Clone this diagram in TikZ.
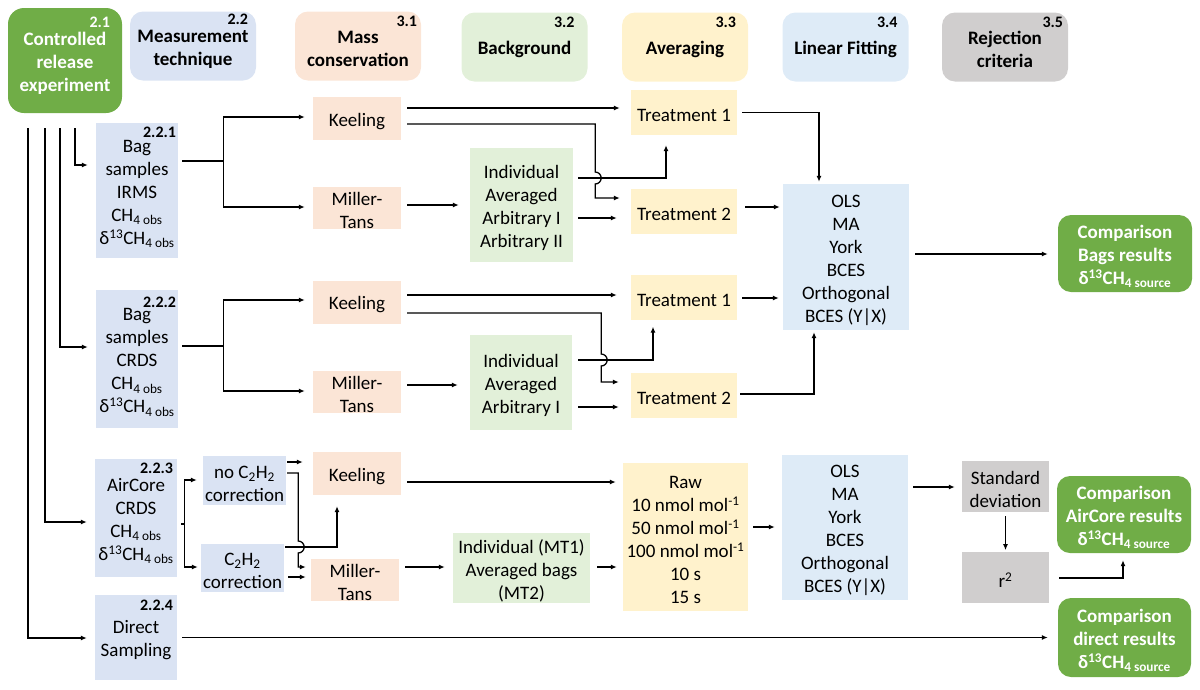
\documentclass[tikz,border=0pt]{standalone}
\usepackage{fontspec}
\setmainfont{Carlito}
\usetikzlibrary{arrows.meta,positioning,calc}
\definecolor{Leaf}{HTML}{70AD47}
\definecolor{Steel}{HTML}{DAE3F3}
\definecolor{Peach}{HTML}{FBE5D6}
\definecolor{Sage}{HTML}{E2F0D9}
\definecolor{Cream}{HTML}{FFF2CC}
\definecolor{Sky}{HTML}{DEEBF7}
\definecolor{Stone}{HTML}{D0CECE}
\newcommand\bodysize{\fontsize{19pt}{23pt}\selectfont}
\newcommand\tagsize{\fontsize{16pt}{18pt}\selectfont\bfseries}
\newcommand\lift{\rule{0pt}{19pt}}
\newcommand\obs{\textsubscript{4 obs}}
\newcommand\src{\textsubscript{4 source}}
\newcommand\dC{δ\textsuperscript{13}CH}

\begin{document}
\begin{tikzpicture}[x=1pt,y=1pt,
    cell/.style={inner sep=0pt,align=center,font=\bodysize},
    wh/.style 2 args={minimum width=#1pt,minimum height=#2pt},
    head/.style={cell,rounded corners=13pt,font=\bodysize\bfseries,wh={126}{69}},
    result/.style={cell,rounded corners=13pt,fill=Leaf,text=white,font=\bodysize\bfseries},
    tag/.style={inner sep=0pt,font=\tagsize,anchor=north east},
    link/.style={line width=1.3pt,shorten <=6pt},
    arr/.style={link,-{Latex[length=6pt,width=5pt]},shorten >=8pt}
  ]
  \useasboundingbox (0,0) rectangle (1200,-689);
  % section headers
  \node[head,fill=Leaf,text=white,wh={114}{105},rounded corners=16pt] (h21) at (65,-60.5) {\lift Controlled\\release\\experiment};
  \node[head,fill=Steel] (h22) at (193,-46) {\lift Measurement\\technique};
  \node[head,fill=Peach] (h31) at (358,-46) {\lift Mass\\conservation};
  \node[head,fill=Sage] (h32) at (524.5,-47) {\lift Background};
  \node[head,fill=Cream] (h33) at (685,-47) {\lift Averaging};
  \node[head,fill=Sky] (h34) at (845.5,-47) {\lift Linear Fitting};
  \node[head,fill=Stone] (h35) at (1005,-47) {\lift Rejection\\criteria};

  % measurement techniques
  \node[cell,fill=Steel,wh={82}{135}] (b221) at (137,-190.5) {\lift Bag\\samples\\IRMS\\CH\obs\\\dC\obs};
  \node[cell,fill=Steel,wh={82}{138}] (b222) at (137,-359) {\lift Bag\\samples\\CRDS\\CH\obs\\\dC\obs};
  \node[cell,fill=Steel,wh={82}{118}] (b223) at (136,-518) {\lift AirCore\\CRDS\\CH\obs\\\dC\obs};
  \node[cell,fill=Steel,wh={82}{85}] (b224) at (136,-637.5) {\lift Direct\\Sampling};
  \node[cell,fill=Steel,wh={83}{49}] (nc2) at (244.5,-480.5) {\lift no C\textsubscript{2}H\textsubscript{2}\\correction};
  \node[cell,fill=Steel,wh={83}{48}] (c2) at (242.5,-568) {\lift C\textsubscript{2}H\textsubscript{2}\\correction};

  % mass conservation
  \node[cell,fill=Peach,wh={88}{43}] (keel1) at (357,-118.5) {\lift Keeling};
  \node[cell,fill=Peach,wh={88}{42}] (mt1) at (357,-208) {\lift Miller-\\Tans};
  \node[cell,fill=Peach,wh={88}{43}] (keel2) at (357,-302) {\lift Keeling};
  \node[cell,fill=Peach,wh={88}{42}] (mt2) at (357,-392) {\lift Miller-\\Tans};
  \node[cell,fill=Peach,wh={88}{43}] (keel3) at (357,-473.5) {\lift Keeling};
  \node[cell,fill=Peach,wh={88}{42}] (mt3) at (355,-580) {\lift Miller-\\Tans};

  % background
  \node[cell,fill=Sage,wh={103}{114}] (bkg1) at (521.5,-205) {\lift Individual\\Averaged\\Arbitrary I\\Arbitrary II};
  \node[cell,fill=Sage,wh={102}{95}] (bkg2) at (521,-382.5) {\lift Individual\\Averaged\\Arbitrary I};
  \node[cell,fill=Sage,wh={137}{70}] (bkg3) at (521.5,-568) {\lift Individual (MT1)\\Averaged bags\\(MT2)};

  % averaging
  \node[cell,fill=Cream,wh={106}{45}] (t1a) at (684,-112.5) {\lift Treatment 1};
  \node[cell,fill=Cream,wh={106}{45}] (t2a) at (684,-211) {\lift Treatment 2};
  \node[cell,fill=Cream,wh={106}{45}] (t1b) at (684,-297) {\lift Treatment 1};
  \node[cell,fill=Cream,wh={106}{45}] (t2b) at (684,-395) {\lift Treatment 2};
  \node[cell,fill=Cream,wh={125}{148}] (avg3) at (685.5,-537) {\lift Raw\\10 nmol mol\textsuperscript{-1}\\50 nmol mol\textsuperscript{-1}\\100 nmol mol\textsuperscript{-1}\\10 s\\15 s};

  % fitting and rejection
  \node[cell,fill=Sky,wh={126}{146}] (fit1) at (846,-257) {\lift OLS\\MA\\York\\BCES\\Orthogonal\\BCES (Y|X)};
  \node[cell,fill=Sky,wh={126}{145}] (fit3) at (845,-527.5) {\lift OLS\\MA\\York\\BCES\\Orthogonal\\BCES (Y|X)};
  \node[cell,fill=Stone,wh={87}{51}] (std) at (1005.5,-486.5) {\lift Standard\\deviation};
  \node[cell,fill=Stone,wh={87}{51},below=40pt of std] (rsq) {\lift r\textsuperscript{2}};

  % results
  \node[result,wh={134}{77}] (cmpB) at (1125,-253.5) {\lift Comparison\\Bags results\\\dC\src};
  \node[result,wh={134}{77}] (cmpA) at (1124,-514.5) {\lift Comparison\\AirCore results\\\dC\src};
  \node[result,wh={133}{79}] (cmpD) at (1124.5,-637.5) {\lift Comparison\\direct results\\\dC\src};

  % section numbers
  \foreach \b/\lbl/\dx/\dy/\col in {h21/2.1/12/9/white,h22/2.2/8/3/black,h31/3.1/4/5/black,
      h32/3.2/13/5/black,h33/3.3/12/5/black,h34/3.4/11/5/black,h35/3.5/5/5/black,
      b221/2.2.1/2/4/black,b222/2.2.2/2/7/black,b223/2.2.3/4/4/black,b224/2.2.4/4/5/black}
    \node[tag,text=\col] (\b-tag) at ([xshift=-\dx pt,yshift=-\dy pt]\b.north east) {\lbl};

  % from the release experiment
  \foreach \dx/\b/\dy in {10/b221/25.5,-5/b222/12,-20/b223/-4,-37/b224/-0.5}
    \draw[arr,shorten <=15pt] ([xshift=\dx pt]h21.south) |- ([yshift=\dy pt]\b.west);

  % bag samples, IRMS
  \draw[link,shorten <=4pt] ([yshift=29.5pt]b221.east) -- ++(45,0) coordinate (fork1);
  \draw[arr,shorten <=0pt] (fork1) |- ([yshift=1.5pt]keel1.west);
  \draw[arr,shorten <=0pt] (fork1) |- ([yshift=1pt]mt1.west);
  \draw[arr,shorten >=11pt] ([yshift=10.5pt]keel1.east) -- ([yshift=4.5pt]t1a.west);
  \draw[arr,shorten >=11pt] ([yshift=-5.5pt]keel1.east) -- ++(194,0) -- ++(0,-48)
    arc[start angle=90,end angle=-90,radius=6pt] |- ([yshift=13pt]t2a.west);
  \draw[arr,shorten <=5pt,shorten >=10pt] ([yshift=27pt]bkg1.east) -| ([xshift=-18pt]t1a.south);
  \draw[arr,shorten <=5pt,shorten >=14pt] ([yshift=-13pt]bkg1.east) -- ([yshift=-7pt]t2a.west);
  \draw[arr,shorten >=11pt] ([yshift=3pt]mt1.east) -- (bkg1.west);
  \draw[arr,shorten <=5pt,shorten >=2pt] (t1a.east) -| ([xshift=-27pt]fit1.north);
  \draw[arr,shorten <=8pt,shorten >=3pt] ([yshift=4pt]t2a.east) -- ([yshift=50pt]fit1.west);
  \draw[arr,shorten >=10pt] ([yshift=3pt]fit1.east) -- ([yshift=-0.5pt]cmpB.west);

  % bag samples, CRDS
  \draw[link,shorten <=4pt] ([yshift=13pt]b222.east) -- ++(45,0) coordinate (fork2);
  \draw[arr,shorten <=0pt] (fork2) |- ([yshift=2pt]keel2.west);
  \draw[arr,shorten <=0pt] (fork2) |- ([yshift=1pt]mt2.west);
  \draw[arr,shorten >=14pt] ([yshift=7pt]keel2.east) -- ([yshift=2pt]t1b.west);
  \draw[arr,shorten >=12pt] ([yshift=-11pt]keel2.east) -- ++(200,0) -- ++(0,-41)
    arc[start angle=90,end angle=-90,radius=6pt] |- ([yshift=13pt]t2b.west);
  \draw[arr,shorten <=6pt,shorten >=7pt] ([yshift=22.5pt]bkg2.east) -| ([xshift=-31pt]t1b.south);
  \draw[arr,shorten >=12pt] ([yshift=-24.5pt]bkg2.east) -- ([yshift=-12pt]t2b.west);
  \draw[arr,shorten >=12pt] ([yshift=7pt]mt2.east) -- ([yshift=-2.5pt]bkg2.west);
  \draw[arr,shorten <=5pt,shorten >=4pt] ([yshift=-1pt]t1b.east) -- ([yshift=-41pt]fit1.west);
  \draw[arr,shorten <=3pt,shorten >=2pt] ([yshift=1pt]t2b.east) -| ([xshift=-32pt]fit1.south);

  % AirCore
  \draw[link,shorten <=4pt] ([yshift=-6pt]b223.east) -- ++(7,0) coordinate (fork3);
  \draw[arr,shorten <=0pt,shorten >=6pt] (fork3) |- ([yshift=0.5pt]nc2.west);
  \draw[arr,shorten <=0pt,shorten >=3pt] (fork3) |- ([yshift=1pt]c2.west);
  \draw[arr,shorten <=1pt,shorten >=10pt] ([yshift=18.5pt]nc2.east) -- ([yshift=11.5pt]keel3.west);
  \draw[arr,shorten <=1pt,shorten >=5pt] ([yshift=7.5pt]nc2.east) -- ++(12,0) -- ++(0,-68)
    arc[start angle=90,end angle=-90,radius=6pt] |- ([yshift=13pt]mt3.west);
  \draw[arr,shorten <=1pt,shorten >=11pt] ([yshift=21pt]c2.east) -| ([xshift=-20pt]keel3.south);
  \draw[arr,shorten <=4pt,shorten >=5pt] ([yshift=-9pt]c2.east) -- ([yshift=3pt]mt3.west);
  \draw[arr,shorten >=7pt] ([yshift=-8.5pt]keel3.east) -- ([yshift=55pt]avg3.west);
  \draw[arr,shorten >=8pt] ([yshift=13pt]mt3.east) -- ([yshift=1pt]bkg3.west);
  \draw[arr,shorten <=7pt,shorten >=6pt] ([yshift=1pt]bkg3.east) -- ([yshift=-30pt]avg3.west);
  \draw[arr,shorten <=5pt,shorten >=7pt] ([yshift=10pt]avg3.east) -- ([yshift=0.5pt]fit3.west);
  \draw[arr,shorten <=5pt,shorten >=7pt] ([yshift=40.5pt]fit3.east) -- ([yshift=-0.5pt]std.west);
  \draw[arr,shorten <=4pt,shorten >=2pt] (std.south) -- (rsq.north);
  \draw[arr,shorten <=10pt,shorten >=7pt] (rsq.east) -| ([xshift=-1pt]cmpA.south);

  % direct sampling
  \draw[arr,shorten <=5pt,shorten >=10pt] (b224.east) -- (cmpD.west);
\end{tikzpicture}
\end{document}
